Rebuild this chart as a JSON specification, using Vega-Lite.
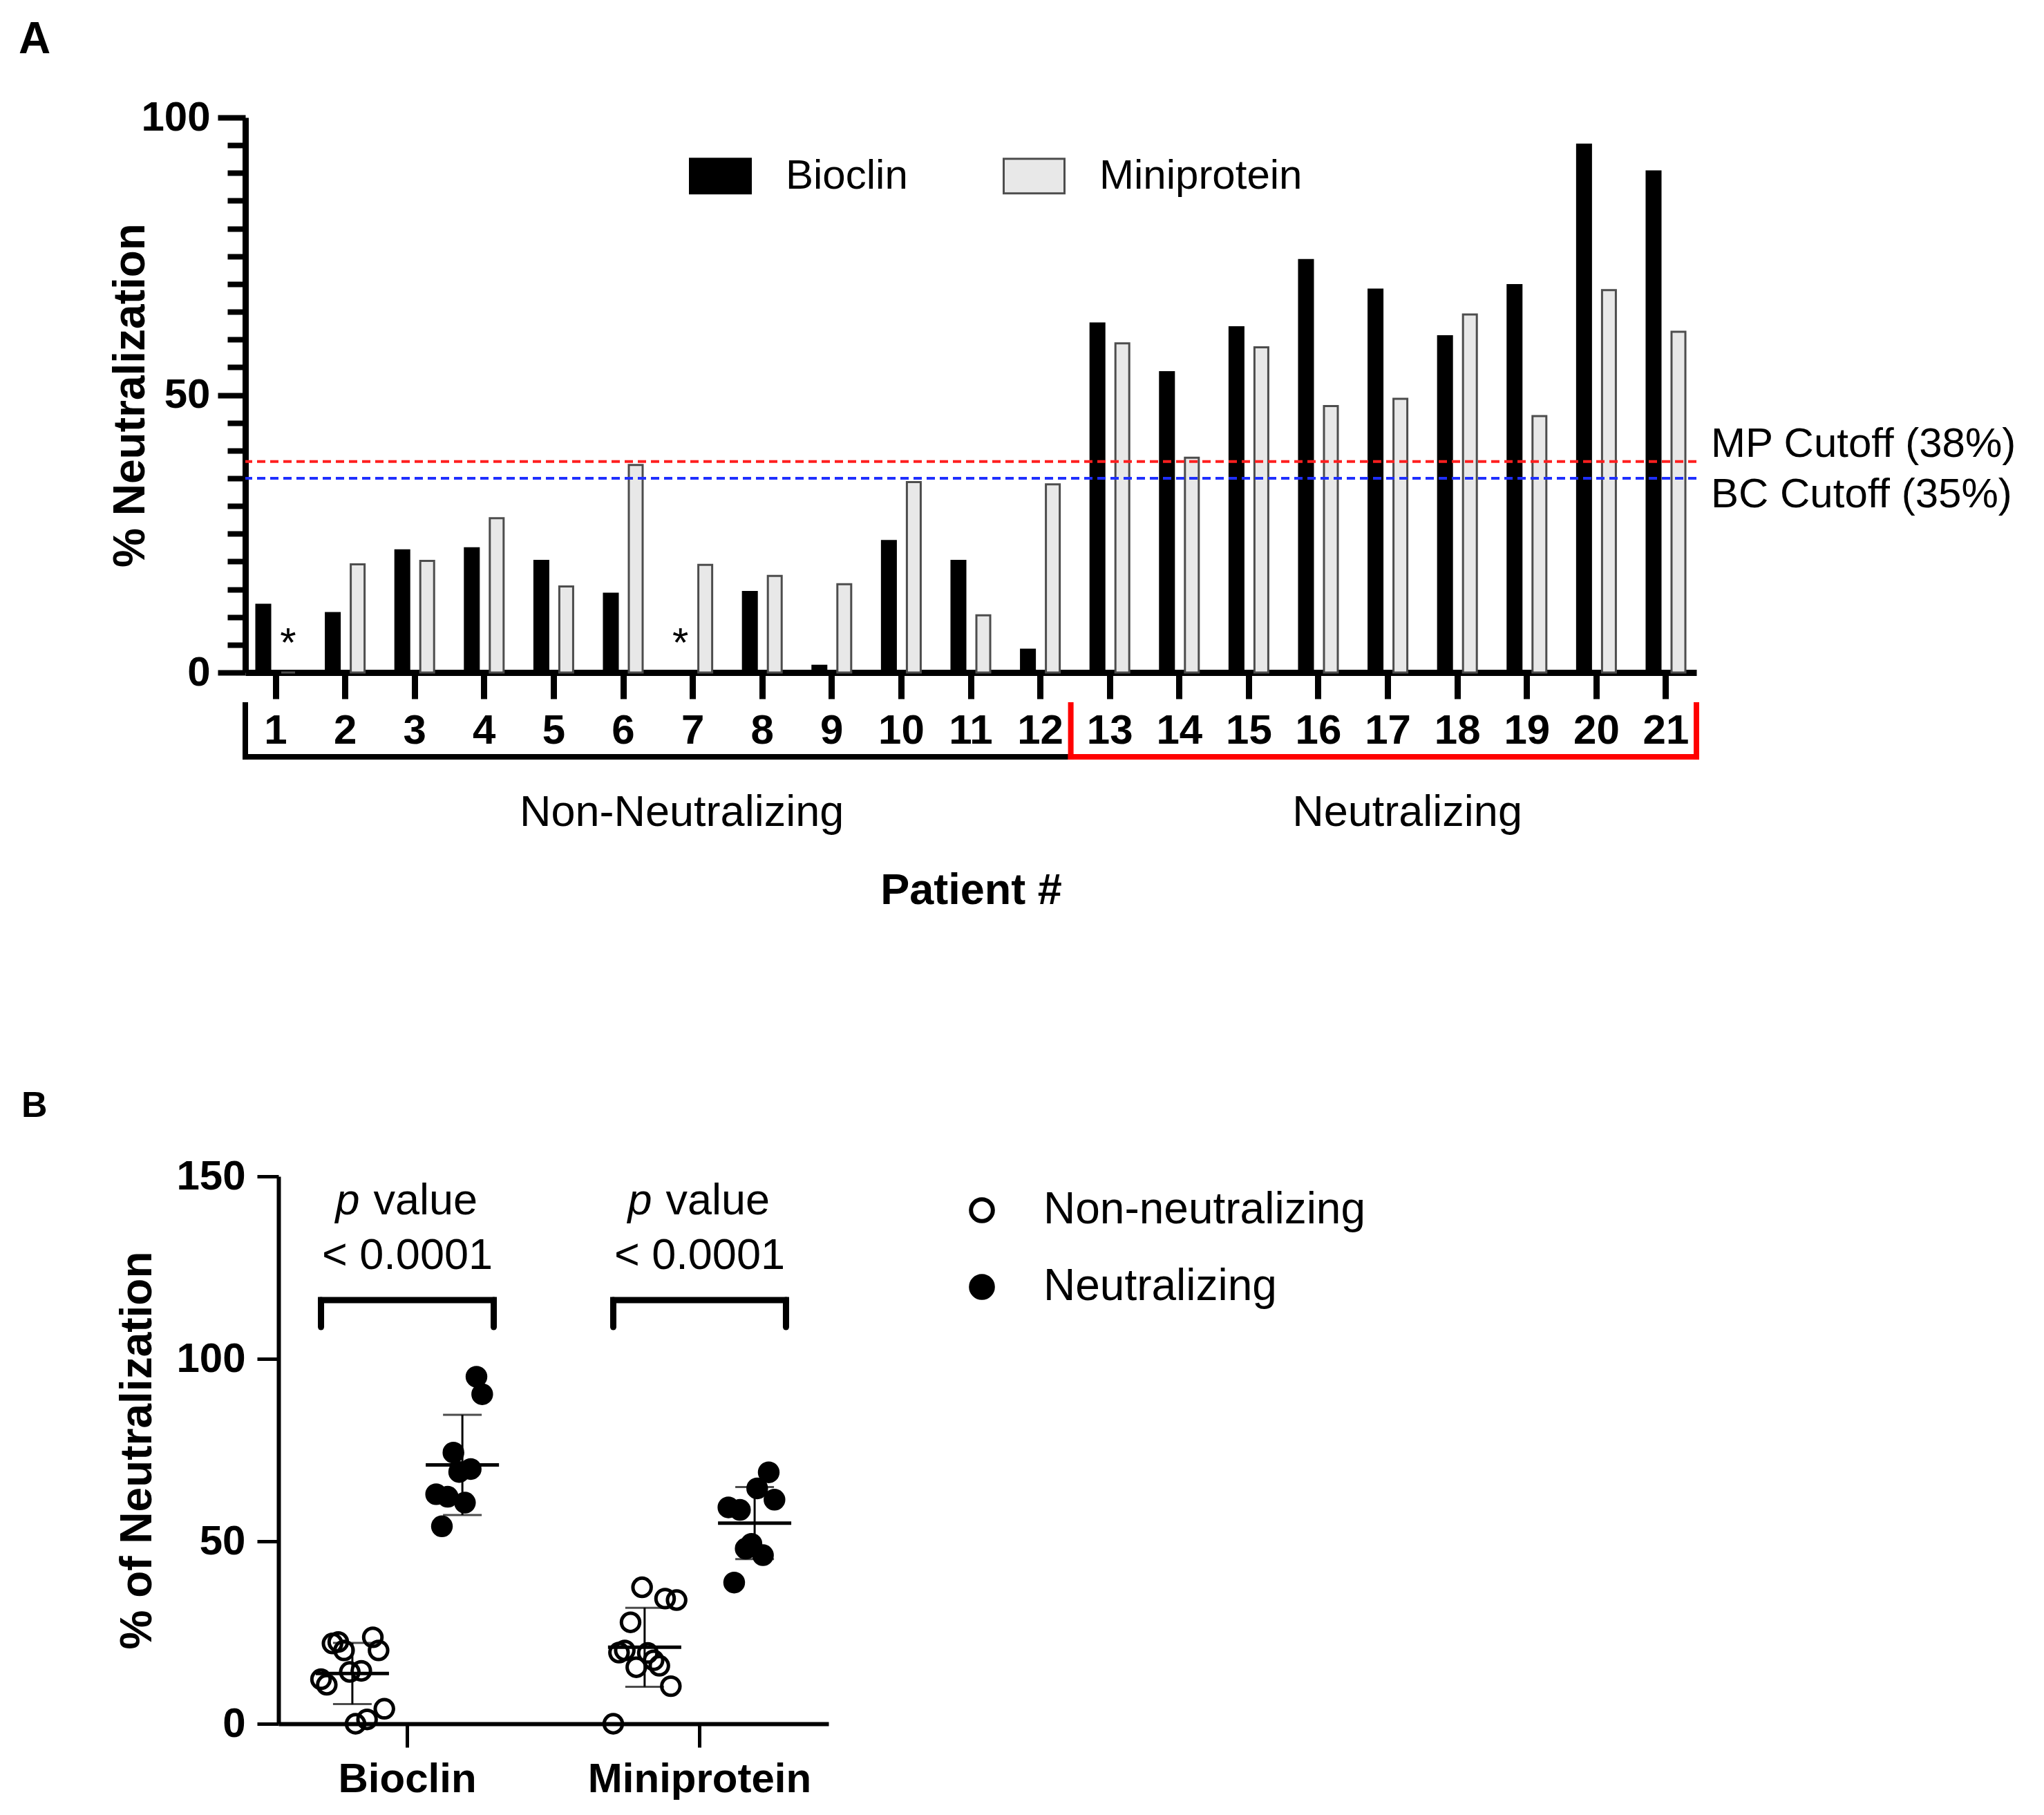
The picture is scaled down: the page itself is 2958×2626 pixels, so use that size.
{
  "$schema": "https://vega.github.io/schema/vega-lite/v6.json",
  "background": "white",
  "padding": {"left": 27, "top": 26, "right": 0, "bottom": 0},
  "spacing": 254,
  "columns": 1,
  "align": "none",
  "resolve": {"scale": {"fill": "independent", "stroke": "independent"}, "legend": {"fill": "independent", "stroke": "independent"}},
  "config": {
    "font": "Liberation Sans",
    "view": {"stroke": null},
    "axis": {"grid": false, "domainColor": "black", "tickColor": "black", "labelColor": "black", "titleColor": "black", "labelFont": "Liberation Sans", "titleFont": "Liberation Sans", "labelOverlap": false, "labelFlush": false, "labelLimit": 0},
    "legend": {"labelFont": "Liberation Sans", "labelColor": "black", "labelLimit": 0},
    "text": {"font": "Liberation Sans", "color": "black"},
    "title": {"font": "Liberation Sans", "color": "black"}
  },
  "datasets": {
    "patients": [
      {"patient": 1, "assay": "Bioclin", "value": 12.2, "group": "Non-neutralizing"},
      {"patient": 1, "assay": "Miniprotein", "value": 0, "group": "Non-neutralizing"},
      {"patient": 2, "assay": "Bioclin", "value": 10.7, "group": "Non-neutralizing"},
      {"patient": 2, "assay": "Miniprotein", "value": 19.5, "group": "Non-neutralizing"},
      {"patient": 3, "assay": "Bioclin", "value": 22.0, "group": "Non-neutralizing"},
      {"patient": 3, "assay": "Miniprotein", "value": 20.1, "group": "Non-neutralizing"},
      {"patient": 4, "assay": "Bioclin", "value": 22.4, "group": "Non-neutralizing"},
      {"patient": 4, "assay": "Miniprotein", "value": 27.8, "group": "Non-neutralizing"},
      {"patient": 5, "assay": "Bioclin", "value": 20.1, "group": "Non-neutralizing"},
      {"patient": 5, "assay": "Miniprotein", "value": 15.5, "group": "Non-neutralizing"},
      {"patient": 6, "assay": "Bioclin", "value": 14.2, "group": "Non-neutralizing"},
      {"patient": 6, "assay": "Miniprotein", "value": 37.4, "group": "Non-neutralizing"},
      {"patient": 7, "assay": "Bioclin", "value": 0, "group": "Non-neutralizing"},
      {"patient": 7, "assay": "Miniprotein", "value": 19.4, "group": "Non-neutralizing"},
      {"patient": 8, "assay": "Bioclin", "value": 14.5, "group": "Non-neutralizing"},
      {"patient": 8, "assay": "Miniprotein", "value": 17.4, "group": "Non-neutralizing"},
      {"patient": 9, "assay": "Bioclin", "value": 1.2, "group": "Non-neutralizing"},
      {"patient": 9, "assay": "Miniprotein", "value": 15.9, "group": "Non-neutralizing"},
      {"patient": 10, "assay": "Bioclin", "value": 23.7, "group": "Non-neutralizing"},
      {"patient": 10, "assay": "Miniprotein", "value": 34.3, "group": "Non-neutralizing"},
      {"patient": 11, "assay": "Bioclin", "value": 20.1, "group": "Non-neutralizing"},
      {"patient": 11, "assay": "Miniprotein", "value": 10.3, "group": "Non-neutralizing"},
      {"patient": 12, "assay": "Bioclin", "value": 4.1, "group": "Non-neutralizing"},
      {"patient": 12, "assay": "Miniprotein", "value": 33.9, "group": "Non-neutralizing"},
      {"patient": 13, "assay": "Bioclin", "value": 62.9, "group": "Neutralizing"},
      {"patient": 13, "assay": "Miniprotein", "value": 59.3, "group": "Neutralizing"},
      {"patient": 14, "assay": "Bioclin", "value": 54.1, "group": "Neutralizing"},
      {"patient": 14, "assay": "Miniprotein", "value": 38.7, "group": "Neutralizing"},
      {"patient": 15, "assay": "Bioclin", "value": 62.2, "group": "Neutralizing"},
      {"patient": 15, "assay": "Miniprotein", "value": 58.6, "group": "Neutralizing"},
      {"patient": 16, "assay": "Bioclin", "value": 74.3, "group": "Neutralizing"},
      {"patient": 16, "assay": "Miniprotein", "value": 48.0, "group": "Neutralizing"},
      {"patient": 17, "assay": "Bioclin", "value": 69.0, "group": "Neutralizing"},
      {"patient": 17, "assay": "Miniprotein", "value": 49.3, "group": "Neutralizing"},
      {"patient": 18, "assay": "Bioclin", "value": 60.6, "group": "Neutralizing"},
      {"patient": 18, "assay": "Miniprotein", "value": 64.5, "group": "Neutralizing"},
      {"patient": 19, "assay": "Bioclin", "value": 69.8, "group": "Neutralizing"},
      {"patient": 19, "assay": "Miniprotein", "value": 46.2, "group": "Neutralizing"},
      {"patient": 20, "assay": "Bioclin", "value": 95.1, "group": "Neutralizing"},
      {"patient": 20, "assay": "Miniprotein", "value": 68.9, "group": "Neutralizing"},
      {"patient": 21, "assay": "Bioclin", "value": 90.3, "group": "Neutralizing"},
      {"patient": 21, "assay": "Miniprotein", "value": 61.4, "group": "Neutralizing"}
    ],
    "cutoffs": [
      {"cutoff": "MP", "pct": 38, "label": "MP Cutoff (38%)"},
      {"cutoff": "BC", "pct": 35, "label": "BC Cutoff (35%)"}
    ],
    "tests": [
      {"assay": "Bioclin", "p": "< 0.0001"},
      {"assay": "Miniprotein", "p": "< 0.0001"}
    ]
  },
  "concat": [
    {
      "width": 2100,
      "height": 803,
      "title": {"text": "A", "anchor": "start", "frame": "group", "dx": -328, "offset": -1, "fontSize": 64, "fontWeight": "bold", "baseline": "alphabetic", "color": "black"},
      "layer": [
        {
          "data": {"name": "patients"},
          "mark": {"type": "bar", "strokeWidth": 3},
          "encoding": {
            "x": {
              "field": "patient", "type": "ordinal",
              "scale": {"paddingInner": 0.125, "paddingOuter": 0},
              "axis": {"title": "Patient #", "labelAngle": 0, "labelFontSize": 60, "labelFontWeight": "bold", "labelPadding": 17, "tickSize": 38, "tickWidth": 9, "domainWidth": 9, "titleFontSize": 63, "titleFontWeight": "bold", "titlePadding": 170}
            },
            "xOffset": {"field": "assay", "type": "nominal", "scale": {"domain": ["Bioclin", "Miniprotein"], "paddingInner": 0.444, "paddingOuter": 0.444}},
            "y": {
              "field": "value", "type": "quantitative",
              "scale": {"domain": [0, 100], "nice": false},
              "axis": {
                "title": "% Neutralization",
                "values": [0, 5, 10, 15, 20, 25, 30, 35, 40, 45, 50, 55, 60, 65, 70, 75, 80, 85, 90, 95, 100],
                "labelExpr": "datum.value % 50 === 0 ? datum.label : ''",
                "tickSize": {"condition": {"test": "datum.value % 50 === 0", "value": 40}, "value": 26},
                "tickWidth": 8, "domainWidth": 9,
                "labelFontSize": 60, "labelFontWeight": "bold", "labelPadding": 11,
                "titleFontSize": 64, "titleFontWeight": "bold", "titleBaseline": "alphabetic", "titlePadding": -5
              }
            },
            "fill": {
              "field": "assay", "type": "nominal",
              "scale": {"domain": ["Bioclin", "Miniprotein"], "range": ["black", "#e8e8e8"]},
              "legend": {"orient": "none", "direction": "horizontal", "legendX": 642, "legendY": 39, "title": null, "padding": 0, "symbolType": "M-1,-0.57L1,-0.57L1,0.57L-1,0.57Z", "symbolSize": 7744, "symbolStrokeWidth": 3, "labelFontSize": 60, "labelOffset": 49, "columnPadding": 132}
            },
            "stroke": {
              "field": "assay", "type": "nominal",
              "scale": {"domain": ["Bioclin", "Miniprotein"], "range": ["black", "#4d4d4d"]},
              "legend": {"orient": "none", "direction": "horizontal", "legendX": 642, "legendY": 39, "title": null, "padding": 0, "symbolType": "M-1,-0.57L1,-0.57L1,0.57L-1,0.57Z", "symbolSize": 7744, "symbolStrokeWidth": 3, "labelFontSize": 60, "labelOffset": 49, "columnPadding": 132}
            }
          }
        },
        {
          "data": {"name": "patients"},
          "transform": [{"filter": "datum.value === 0"}],
          "mark": {"type": "text", "text": "*", "fontSize": 60, "baseline": "alphabetic", "dy": -23},
          "encoding": {
            "x": {"field": "patient", "type": "ordinal"},
            "xOffset": {"field": "assay", "type": "nominal"},
            "y": {"field": "value", "type": "quantitative"}
          }
        },
        {
          "data": {"name": "cutoffs"},
          "mark": {"type": "rule", "strokeDash": [12, 7], "strokeWidth": 4},
          "encoding": {
            "y": {"field": "pct", "type": "quantitative"},
            "color": {"condition": {"test": "datum.cutoff === 'MP'", "value": "#ff1f1f"}, "value": "#1f2fff"}
          }
        },
        {
          "data": {"name": "cutoffs"},
          "transform": [{"filter": "datum.cutoff === 'MP'"}],
          "mark": {"type": "text", "align": "left", "baseline": "alphabetic", "dx": 21, "dy": -7, "fontSize": 60},
          "encoding": {
            "x": {"datum": 21, "type": "ordinal", "bandPosition": 1},
            "y": {"field": "pct", "type": "quantitative"},
            "text": {"field": "label"}
          }
        },
        {
          "data": {"name": "cutoffs"},
          "transform": [{"filter": "datum.cutoff === 'BC'"}],
          "mark": {"type": "text", "align": "left", "baseline": "alphabetic", "dx": 21, "dy": 42, "fontSize": 60},
          "encoding": {
            "x": {"datum": 21, "type": "ordinal", "bandPosition": 1},
            "y": {"field": "pct", "type": "quantitative"},
            "text": {"field": "label"}
          }
        },
        {
          "data": {"values": [{}]},
          "mark": {"type": "rule", "color": "black", "strokeWidth": 8, "strokeCap": "square"},
          "encoding": {
            "x": {"datum": 1, "type": "ordinal", "bandPosition": 0},
            "x2": {"datum": 12, "bandPosition": 1},
            "y": {"datum": -15.2, "type": "quantitative"}
          }
        },
        {
          "data": {"values": [{}]},
          "mark": {"type": "rule", "color": "black", "strokeWidth": 8, "strokeCap": "square"},
          "encoding": {
            "x": {"datum": 1, "type": "ordinal", "bandPosition": 0},
            "y": {"datum": -15.2, "type": "quantitative"},
            "y2": {"datum": -5.85}
          }
        },
        {
          "data": {"values": [{}]},
          "mark": {"type": "rule", "color": "#ff0000", "strokeWidth": 8, "strokeCap": "square"},
          "encoding": {
            "x": {"datum": 12, "type": "ordinal", "bandPosition": 1},
            "x2": {"datum": 21, "bandPosition": 1},
            "y": {"datum": -15.2, "type": "quantitative"}
          }
        },
        {
          "data": {"values": [{}]},
          "mark": {"type": "rule", "color": "#ff0000", "strokeWidth": 8, "strokeCap": "square"},
          "encoding": {
            "x": {"datum": 12, "type": "ordinal", "bandPosition": 1},
            "y": {"datum": -15.2, "type": "quantitative"},
            "y2": {"datum": -5.85}
          }
        },
        {
          "data": {"values": [{}]},
          "mark": {"type": "rule", "color": "#ff0000", "strokeWidth": 8, "strokeCap": "square"},
          "encoding": {
            "x": {"datum": 21, "type": "ordinal", "bandPosition": 1},
            "y": {"datum": -15.2, "type": "quantitative"},
            "y2": {"datum": -5.85}
          }
        },
        {
          "data": {"values": [{"label": "Non-Neutralizing"}]},
          "mark": {"type": "text", "align": "center", "baseline": "alphabetic", "fontSize": 63, "dx": -16},
          "encoding": {
            "x": {"datum": 7, "type": "ordinal"},
            "y": {"datum": -27.6, "type": "quantitative"},
            "text": {"field": "label"}
          }
        },
        {
          "data": {"values": [{"label": "Neutralizing"}]},
          "mark": {"type": "text", "align": "center", "baseline": "alphabetic", "fontSize": 63, "dx": 28},
          "encoding": {
            "x": {"datum": 17, "type": "ordinal"},
            "y": {"datum": -27.6, "type": "quantitative"},
            "text": {"field": "label"}
          }
        }
      ]
    },
    {
      "width": 844,
      "height": 792,
      "title": {"text": "B", "anchor": "start", "frame": "group", "dx": -324, "offset": 4, "fontSize": 52, "fontWeight": "bold", "baseline": "alphabetic", "color": "black"},
      "resolve": {"scale": {"xOffset": "independent"}},
      "layer": [
        {
          "data": {"name": "patients"},
          "mark": {"type": "point", "shape": "circle", "filled": true, "size": 700, "stroke": "black", "strokeWidth": 5, "opacity": 1},
          "encoding": {
            "x": {
              "field": "assay", "type": "nominal",
              "scale": {"domain": ["Bioclin", "Miniprotein"], "range": [48, 844], "paddingInner": 0.409, "paddingOuter": 0.1455},
              "axis": {"title": null, "labelAngle": 0, "labelFontSize": 60, "labelFontWeight": "bold", "labelPadding": 17, "tickSize": 34, "tickWidth": 5, "domainWidth": 6}
            },
            "xOffset": {
              "field": "patient", "type": "ordinal",
              "scale": {"domain": [1, 2, 3, 4, 5, 6, 7, 8, 9, 10, 11, 12, 101, 102, 103, 104, 105, 106, 107, 108, 13, 14, 15, 16, 17, 18, 19, 20, 21, 201, 202], "paddingInner": 0, "paddingOuter": 0}
            },
            "y": {
              "field": "value", "type": "quantitative", "title": "% of Neutralization",
              "scale": {"domain": [0, 150], "nice": false},
              "axis": {"title": "% of Neutralization", "offset": -48, "values": [0, 50, 100, 150], "tickSize": 31, "tickWidth": 5, "domainWidth": 6, "labelFontSize": 60, "labelFontWeight": "bold", "labelPadding": 17, "titleFontSize": 64, "titleFontWeight": "bold", "titleBaseline": "alphabetic", "titlePadding": 36}
            },
            "fill": {
              "field": "group", "type": "nominal",
              "scale": {"domain": ["Non-neutralizing", "Neutralizing"], "range": ["transparent", "black"]},
              "legend": {"orient": "none", "legendX": 1034, "legendY": 17, "title": null, "padding": 0, "symbolType": "circle", "symbolSize": 1000, "symbolStrokeColor": "black", "symbolStrokeWidth": 6, "labelFontSize": 64, "labelOffset": 57, "rowPadding": 47}
            }
          }
        },
        {
          "data": {"name": "patients"},
          "mark": {"type": "errorbar", "extent": "stdev", "ticks": {"size": 56}, "thickness": 3, "color": "black"},
          "encoding": {
            "x": {"field": "assay", "type": "nominal"},
            "xOffset": {"field": "group", "type": "nominal", "scale": {"domain": ["Non-neutralizing", "Neutralizing"], "paddingInner": 0.43, "paddingOuter": 0}},
            "y": {"field": "value", "type": "quantitative", "title": "% of Neutralization"}
          }
        },
        {
          "data": {"name": "patients"},
          "mark": {"type": "tick", "size": 106, "thickness": 5, "color": "black"},
          "encoding": {
            "x": {"field": "assay", "type": "nominal"},
            "xOffset": {"field": "group", "type": "nominal", "scale": {"domain": ["Non-neutralizing", "Neutralizing"], "paddingInner": 0.43, "paddingOuter": 0}},
            "y": {"aggregate": "mean", "field": "value", "type": "quantitative", "title": "% of Neutralization"}
          }
        },
        {
          "data": {"name": "tests"},
          "mark": {"type": "text", "text": "p", "fontStyle": "italic", "align": "left", "baseline": "alphabetic", "dx": -104, "fontSize": 63},
          "encoding": {
            "x": {"field": "assay", "type": "nominal"},
            "y": {"datum": 139.6, "type": "quantitative"}
          }
        },
        {
          "data": {"name": "tests"},
          "mark": {"type": "text", "text": "value", "align": "left", "baseline": "alphabetic", "dx": -49, "fontSize": 63},
          "encoding": {
            "x": {"field": "assay", "type": "nominal"},
            "y": {"datum": 139.6, "type": "quantitative"}
          }
        },
        {
          "data": {"name": "tests"},
          "mark": {"type": "text", "align": "center", "baseline": "alphabetic", "fontSize": 63},
          "encoding": {
            "x": {"field": "assay", "type": "nominal"},
            "y": {"datum": 124.6, "type": "quantitative"},
            "text": {"field": "p"}
          }
        },
        {
          "data": {"name": "tests"},
          "mark": {"type": "rule", "color": "black", "strokeWidth": 9, "strokeCap": "square"},
          "encoding": {
            "x": {"field": "assay", "type": "nominal", "bandPosition": 0},
            "x2": {"field": "assay", "bandPosition": 1},
            "y": {"datum": 116.1, "type": "quantitative"}
          }
        },
        {
          "data": {"name": "tests"},
          "mark": {"type": "rule", "color": "black", "strokeWidth": 9, "strokeCap": "round"},
          "encoding": {
            "x": {"field": "assay", "type": "nominal", "bandPosition": 0},
            "y": {"datum": 116.1, "type": "quantitative"},
            "y2": {"datum": 108.7}
          }
        },
        {
          "data": {"name": "tests"},
          "mark": {"type": "rule", "color": "black", "strokeWidth": 9, "strokeCap": "round"},
          "encoding": {
            "x": {"field": "assay", "type": "nominal", "bandPosition": 1},
            "y": {"datum": 116.1, "type": "quantitative"},
            "y2": {"datum": 108.7}
          }
        }
      ]
    }
  ]
}
